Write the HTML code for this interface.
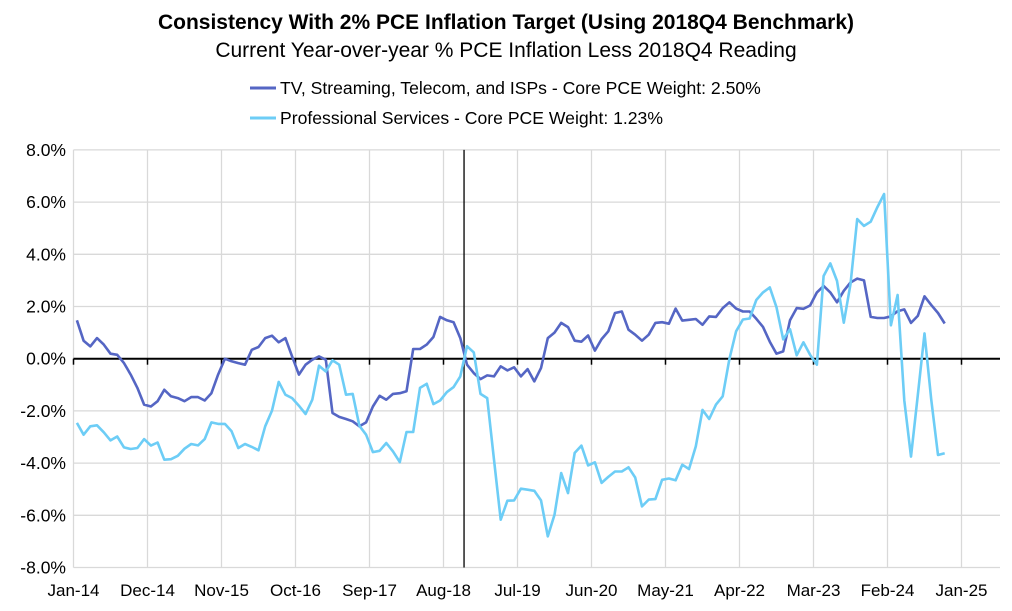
<!DOCTYPE html>
<html><head><meta charset="utf-8"><style>
body{margin:0;background:#fff;font-family:"Liberation Sans",sans-serif;}
svg{display:block}
</style></head><body>
<svg id="chart" width="1012" height="611">
<text x="506" y="29" text-anchor="middle" font-size="21" font-weight="bold" fill="#000">Consistency With 2% PCE Inflation Target (Using 2018Q4 Benchmark)</text>
<text x="506" y="57" text-anchor="middle" font-size="21" fill="#000">Current Year-over-year % PCE Inflation Less 2018Q4 Reading</text>
<g>
<line x1="250" y1="88" x2="276" y2="88" stroke="#5566c4" stroke-width="3"/>
<text x="280" y="94" font-size="17.6">TV, Streaming, Telecom, and ISPs - Core PCE Weight: 2.50%</text>
<line x1="250" y1="118" x2="276" y2="118" stroke="#6dcdf6" stroke-width="3"/>
<text x="280" y="124" font-size="17.6">Professional Services - Core PCE Weight: 1.23%</text>
</g>
<g id="grid"></g><g id="axes"></g><g id="series"></g>
</svg>
<script>
const xLabels=["Jan-14","Dec-14","Nov-15","Oct-16","Sep-17","Aug-18","Jul-19","Jun-20","May-21","Apr-22","Mar-23","Feb-24","Jan-25"];
const yTicks=[8,6,4,2,0,-2,-4,-6,-8];
const tvValues=[1.47,0.69,0.47,0.79,0.54,0.19,0.15,-0.17,-0.61,-1.12,-1.76,-1.83,-1.63,-1.19,-1.44,-1.51,-1.63,-1.47,-1.47,-1.6,-1.32,-0.61,0,-0.1,-0.17,-0.23,0.34,0.45,0.79,0.88,0.63,0.79,0.09,-0.61,-0.23,-0.04,0.09,-0.04,-2.08,-2.23,-2.31,-2.4,-2.59,-2.44,-1.83,-1.42,-1.57,-1.35,-1.32,-1.25,0.37,0.37,0.54,0.83,1.6,1.47,1.4,0.79,-0.23,-0.55,-0.78,-0.64,-0.68,-0.29,-0.45,-0.33,-0.68,-0.4,-0.87,-0.36,0.79,1.0,1.37,1.21,0.69,0.65,0.89,0.31,0.75,1.05,1.75,1.81,1.11,0.92,0.69,0.92,1.37,1.4,1.34,1.92,1.46,1.49,1.52,1.3,1.62,1.6,1.94,2.16,1.92,1.81,1.81,1.53,1.22,0.65,0.19,0.28,1.47,1.94,1.91,2.04,2.54,2.79,2.54,2.16,2.6,2.92,3.07,3.0,1.6,1.56,1.56,1.62,1.82,1.89,1.37,1.64,2.39,2.06,1.75,1.35];
const profValues=[-2.46,-2.91,-2.59,-2.55,-2.82,-3.13,-2.98,-3.4,-3.46,-3.42,-3.08,-3.33,-3.21,-3.87,-3.85,-3.72,-3.45,-3.27,-3.32,-3.08,-2.44,-2.5,-2.5,-2.78,-3.42,-3.27,-3.38,-3.51,-2.59,-1.99,-0.89,-1.38,-1.51,-1.8,-2.12,-1.57,-0.27,-0.49,-0.06,-0.23,-1.38,-1.35,-2.57,-2.91,-3.58,-3.53,-3.23,-3.55,-3.96,-2.81,-2.81,-1.12,-0.96,-1.74,-1.6,-1.28,-1.09,-0.68,0.48,0.24,-1.35,-1.51,-3.87,-6.17,-5.44,-5.43,-4.98,-5.02,-5.06,-5.43,-6.81,-5.98,-4.38,-5.15,-3.61,-3.33,-4.09,-3.97,-4.76,-4.53,-4.32,-4.32,-4.16,-4.55,-5.66,-5.4,-5.38,-4.64,-4.59,-4.66,-4.06,-4.23,-3.36,-1.96,-2.31,-1.76,-1.44,-0.01,1.05,1.5,1.54,2.25,2.54,2.73,1.97,0.74,1.13,0.13,0.63,0.15,-0.23,3.17,3.65,2.98,1.38,2.86,5.35,5.09,5.25,5.81,6.31,1.28,2.44,-1.6,-3.75,-1.4,0.97,-1.55,-3.69,-3.62];
const NS="http://www.w3.org/2000/svg";
const L=73.5,R=1000,monthPx=74/11;
const xg=k=>L+k*74;
const xm=i=>L+monthPx*(i+0.5);
const y=v=>358.7-v*26.1;
function mk(tag,attrs,parent){const e=document.createElementNS(NS,tag);for(const k in attrs)e.setAttribute(k,attrs[k]);parent.appendChild(e);return e;}
const grid=document.getElementById('grid'),axes=document.getElementById('axes'),series=document.getElementById('series');
yTicks.forEach(v=>{
 const g=mk('line',{x1:L,x2:R,y1:y(v),y2:y(v),stroke:'#d9d9d9','stroke-width':1.3},grid);
 
 
 const t=mk('text',{x:66,y:y(v)+6,'text-anchor':'end','font-size':17.5,fill:'#000'},axes);
 t.textContent=v.toFixed(1)+'%';
 
 
});
xLabels.forEach((s,k)=>{
 const g=mk('line',{x1:xg(k),x2:xg(k),y1:y(8),y2:y(-8),stroke:'#d9d9d9','stroke-width':1.3},grid);
 
 
 const tk=mk('line',{x1:xg(k),x2:xg(k),y1:y(0),y2:y(0)+6,stroke:'#000','stroke-width':1.5},axes);
 
 
 const t=mk('text',{x:xg(k),y:596,'text-anchor':'middle','font-size':17,fill:'#000'},axes);
 t.textContent=s;
 
 
});
const z=mk('line',{x1:L,x2:R,y1:y(0),y2:y(0),stroke:'#000','stroke-width':2},axes);


const bx=xm(58)-3;
const b=mk('line',{x1:bx,x2:bx,y1:y(8),y2:y(-8),stroke:'#000','stroke-width':1.3},axes);


function line(vals,color,name){
 const p=mk('polyline',{points:vals.map((v,i)=>xm(i).toFixed(1)+','+y(v).toFixed(1)).join(' '),fill:'none',stroke:color,'stroke-width':2.6,'stroke-linejoin':'round'},series);
 
 
}
line(tvValues,'#5566c4','series-tv-streaming');
line(profValues,'#6dcdf6','series-professional-services');
</script>
</body></html>
